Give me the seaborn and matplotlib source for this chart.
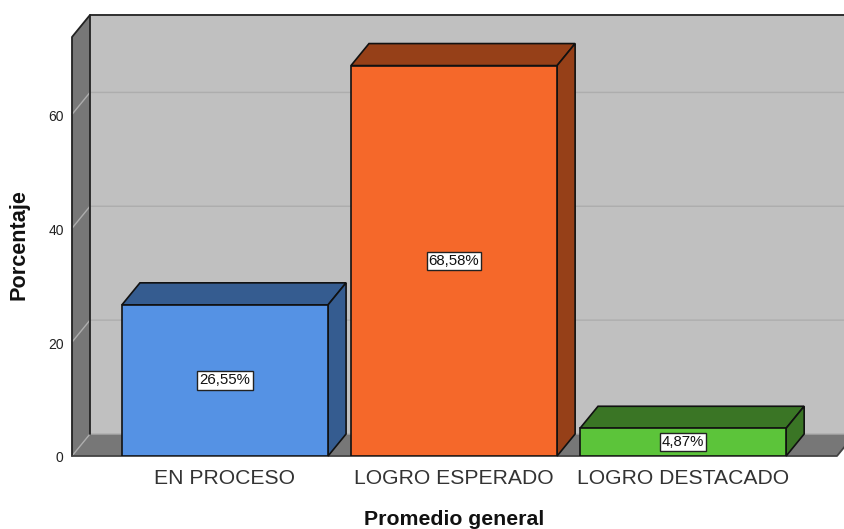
import pandas as pd
import seaborn as sns
import matplotlib.pyplot as plt
from matplotlib.patches import Polygon, Rectangle
from matplotlib.transforms import ScaledTranslation

categorias = ['EN PROCESO', 'LOGRO ESPERADO', 'LOGRO DESTACADO']
porcentajes = [26.55, 68.58, 4.87]
etiquetas = ['26,55%', '68,58%', '4,87%']
ticks_y = [0, 20, 40, 60]

colores = ['#5592E4', '#F5682A', '#5CC43A']
colores_lado = ['#355C90', '#964018', '#3A7525']

sns.set_theme(style='white')
plt.rcParams['font.family'] = ['Liberation Sans', 'DejaVu Sans']

df = pd.DataFrame({'Promedio general': categorias, 'Porcentaje': porcentajes})

W, H = 844, 529
fig = plt.figure(figsize=(W / 100, H / 100), dpi=100)
ax = fig.add_axes([72 / W, (H - 456) / H, (837 - 72) / W, (456 - 37) / H])

ax.set_xlim(-0.668, 2.672)
ax.set_ylim(0, 73.6)

# profundidad del efecto 3D en unidades de datos
dx = 18 / 229
dy = 22 / 5.69
x0, x1 = ax.get_xlim()
y0, y1 = ax.get_ylim()

# paredes
ax.add_patch(Polygon([(x0 + dx, y0 + dy), (x1 + dx, y0 + dy), (x1 + dx, y1 + dy), (x0 + dx, y1 + dy)],
                     fc='#C0C0C0', ec='none', clip_on=False, zorder=0.5))
ax.add_patch(Polygon([(x0, y0), (x0 + dx, y0 + dy), (x0 + dx, y1 + dy), (x0, y1)],
                     fc='#777777', ec='none', clip_on=False, zorder=0.6))
ax.add_patch(Polygon([(x0, y0), (x1, y0), (x1 + dx, y0 + dy), (x0 + dx, y0 + dy)],
                     fc='#777777', ec='none', clip_on=False, zorder=0.6))

# lineas de rejilla
for t in ticks_y:
    ax.plot([x0, x0 + dx, x1 + dx], [t, t + dy, t + dy], color='#ADADAD', lw=1, clip_on=False, zorder=0.7)

# bordes
ax.plot([x0, x0, x0 + dx, x1 + dx], [y0, y1, y1 + dy, y1 + dy], color='#222222', lw=1.3, clip_on=False, zorder=0.8)
ax.plot([x0 + dx, x0 + dx], [y0 + dy, y1 + dy], color='#222222', lw=1.3, clip_on=False, zorder=0.8)
ax.plot([x0, x1, x1 + dx], [y0, y0, y0 + dy], color='#444444', lw=1.3, clip_on=False, zorder=0.8)

sns.barplot(data=df, x='Promedio general', y='Porcentaje', hue='Promedio general',
            palette=colores, width=0.9, saturation=1, edgecolor='#111111', linewidth=1.2,
            legend=False, ax=ax, zorder=3)

ax.set_xlim(x0, x1)
ax.set_ylim(y0, y1)

# caras superior y lateral + etiqueta de cada barra
barras = [p for p in ax.patches if isinstance(p, Rectangle)]
for barra, lado, etiqueta in zip(barras, colores_lado, etiquetas):
    a = barra.get_x()
    b = a + barra.get_width()
    h = barra.get_height()
    ax.add_patch(Polygon([(a, h), (b, h), (b + dx, h + dy), (a + dx, h + dy)],
                         fc=lado, ec='#111111', lw=1.2, clip_on=False, zorder=2.5))
    ax.add_patch(Polygon([(b, 0), (b + dx, dy), (b + dx, h + dy), (b, h)],
                         fc=lado, ec='#111111', lw=1.2, clip_on=False, zorder=2.5))
    ax.text((a + b) / 2, h / 2, etiqueta, ha='center', va='center', fontsize=10.8, color='#111111', zorder=5,
            bbox=dict(boxstyle='square,pad=0.14', fc='white', ec='#222222', lw=1))

for s in ax.spines.values():
    s.set_visible(False)

ax.set_yticks(ticks_y)
ax.tick_params(axis='y', length=0, pad=6, labelsize=10, labelcolor='#222222')
ax.tick_params(axis='x', length=0, pad=9, labelsize=15.2, labelcolor='#333333')
ax.patch.set_visible(False)

# bajar un pixel los numeros del eje y
for lab in ax.get_yticklabels():
    lab.set_transform(lab.get_transform() + ScaledTranslation(0, -1 / 100, fig.dpi_scale_trans))

ax.set_xlabel('Promedio general', fontsize=15.3, fontweight='bold', color='#111111', labelpad=16)
ax.set_ylabel('Porcentaje', fontsize=15.6, fontweight='bold', color='#111111', labelpad=13)
ax.yaxis.label.set_y(0.505)

plt.savefig('out.png', dpi=100)
